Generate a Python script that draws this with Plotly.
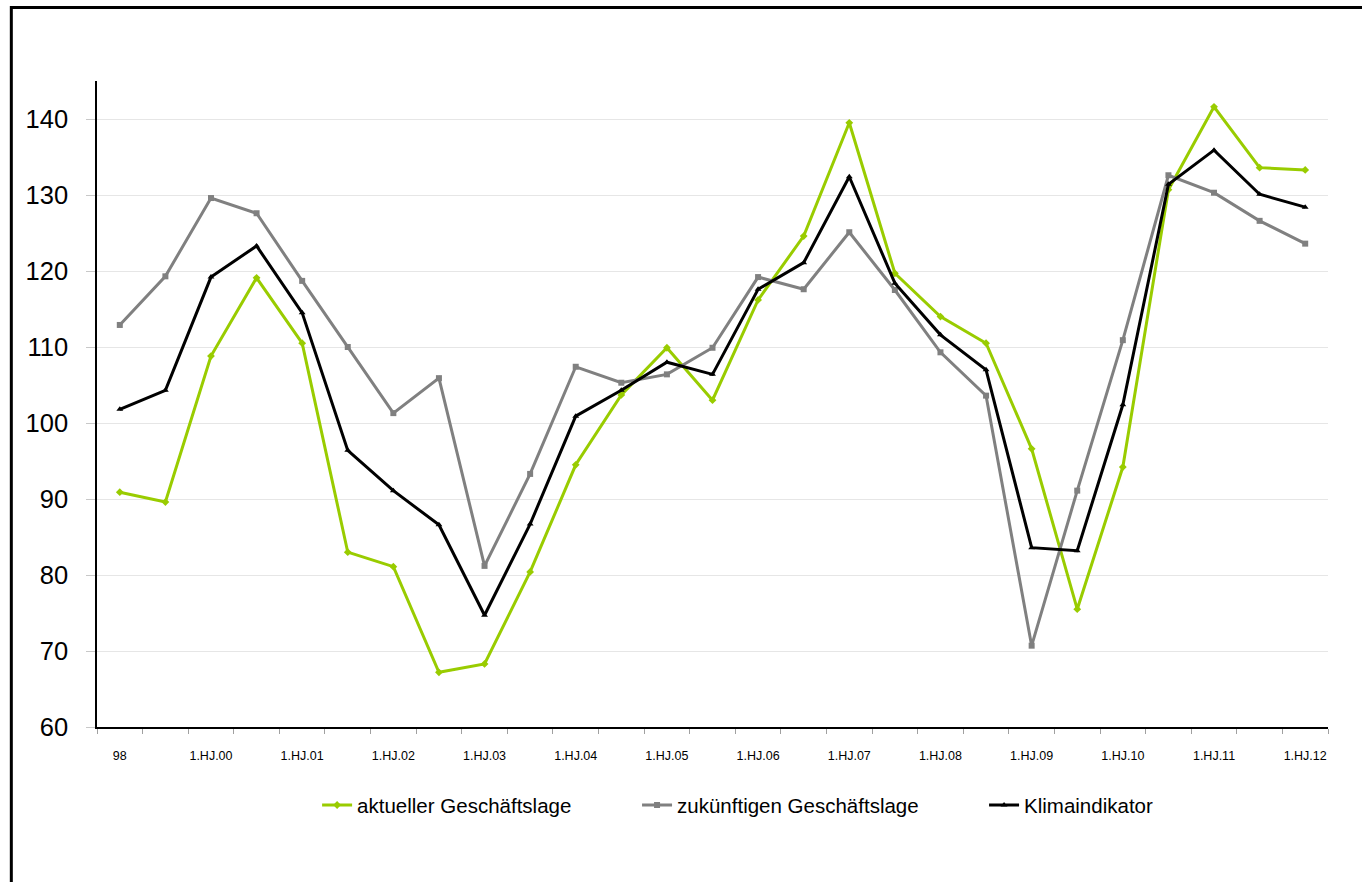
import plotly.graph_objects as go

categories = ["98", "99",
              "1.HJ.00", "2.HJ.00", "1.HJ.01", "2.HJ.01", "1.HJ.02", "2.HJ.02",
              "1.HJ.03", "2.HJ.03", "1.HJ.04", "2.HJ.04", "1.HJ.05", "2.HJ.05",
              "1.HJ.06", "2.HJ.06", "1.HJ.07", "2.HJ.07", "1.HJ.08", "2.HJ.08",
              "1.HJ.09", "2.HJ.09", "1.HJ.10", "2.HJ.10", "1.HJ.11", "2.HJ.11",
              "1.HJ.12"]

aktuell = [90.9, 89.6, 108.8, 119.1, 110.5, 83.0, 81.1, 67.2, 68.3, 80.4,
           94.5, 103.7, 109.9, 103.0, 116.2, 124.6, 139.5, 119.7, 114.0, 110.5,
           96.6, 75.5, 94.2, 130.7, 141.6, 133.6, 133.3]

zukunft = [112.9, 119.3, 129.6, 127.6, 118.7, 110.0, 101.3, 105.9, 81.2, 93.3,
           107.4, 105.3, 106.4, 109.9, 119.2, 117.6, 125.1, 117.5, 109.3, 103.6,
           70.7, 91.1, 110.9, 132.6, 130.3, 126.6, 123.6]

klima = [101.8, 104.3, 119.2, 123.3, 114.5, 96.4, 91.1, 86.6, 74.7, 86.7,
         100.9, 104.3, 108.0, 106.4, 117.6, 121.1, 132.4, 118.4, 111.6, 107.0,
         83.6, 83.2, 102.4, 131.4, 135.9, 130.1, 128.4]

y_ticks = [60, 70, 80, 90, 100, 110, 120, 130, 140]

idx = list(range(len(categories)))
label_idx = idx[::2]
label_txt = [categories[i] for i in label_idx]

fig = go.Figure()
fig.add_trace(go.Scatter(
    x=idx, y=aktuell, name="aktueller Geschäftslage", mode="lines+markers",
    line=dict(color="#99CC00", width=3),
    marker=dict(symbol="diamond", size=6, color="#99CC00"), legend="legend"))
fig.add_trace(go.Scatter(
    x=idx, y=zukunft, name="zukünftigen Geschäftslage", mode="lines+markers",
    line=dict(color="#808080", width=3),
    marker=dict(symbol="square", size=6, color="#808080"), legend="legend2"))
fig.add_trace(go.Scatter(
    x=idx, y=klima, name="Klimaindikator", mode="lines+markers",
    line=dict(color="#000000", width=3),
    marker=dict(symbol="triangle-up", size=6, color="#000000"), legend="legend3"))

leg_common = dict(orientation="h", xanchor="left", y=-0.121, yanchor="middle",
                  font=dict(size=20.5), bgcolor="rgba(0,0,0,0)")

fig.update_layout(
    width=1362, height=882,
    margin=dict(l=97, r=34, t=81, b=155),
    paper_bgcolor="white", plot_bgcolor="white",
    font=dict(family="Liberation Sans, Arial, sans-serif", color="black"),
    showlegend=True,
    legend=dict(x=0.1788, **leg_common),
    legend2=dict(x=0.4387, **leg_common),
    legend3=dict(x=0.7206, **leg_common),
    xaxis=dict(
        range=[-0.5, 26.5], tickmode="array", tickvals=label_idx, ticktext=label_txt,
        ticks="", showgrid=False, zeroline=False,
        showline=True, linecolor="black", linewidth=1.5,
        tickfont=dict(size=12.5), ticklabelstandoff=16,
        minor=dict(tickmode="array", tickvals=[i - 0.5 for i in range(len(categories) + 1)],
                   ticks="outside", ticklen=5, tickcolor="#a0a0a0", showgrid=False),
    ),
    yaxis=dict(
        range=[60, 145], tickmode="array", tickvals=y_ticks,
        ticks="outside", ticklen=9, tickcolor="#c8c8c8",
        showgrid=True, gridcolor="#e6e6e6", gridwidth=1, zeroline=False,
        showline=True, linecolor="black", linewidth=1.5,
        tickfont=dict(size=25.5), ticklabelstandoff=13,
    ),
)

fig.add_shape(type="rect", xref="paper", yref="paper",
              x0=-0.0696, x1=1.2, y0=-0.4, y1=1.1138,
              line=dict(color="black", width=3), fillcolor="rgba(0,0,0,0)", layer="below")

fig.write_html("out.html", config={"displayModeBar": False},
               post_script="document.body.style.margin='0';")
